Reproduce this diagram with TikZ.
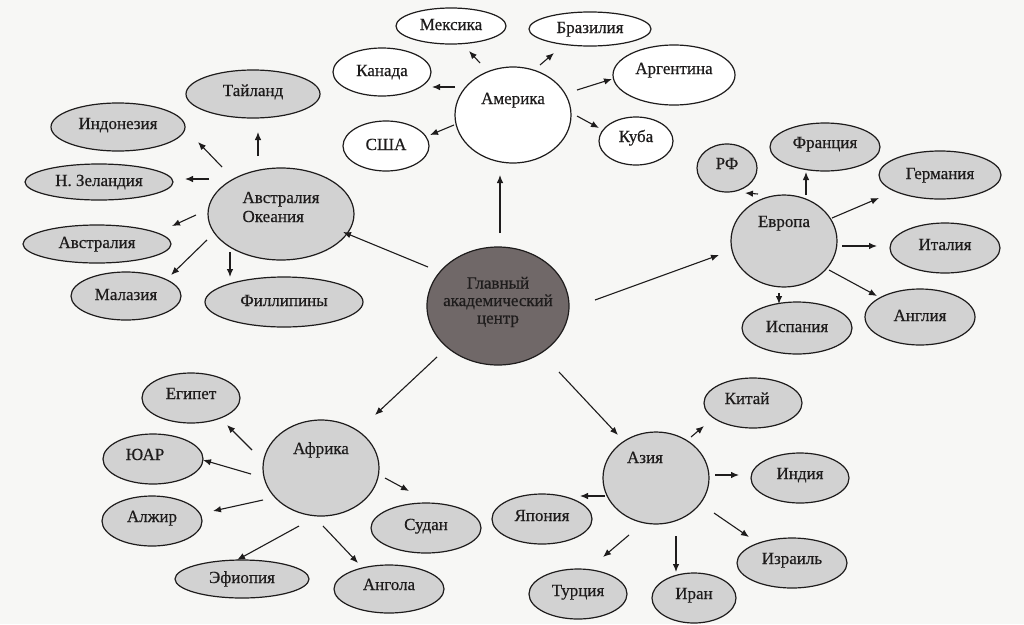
\documentclass[tikz,border=0pt]{standalone}
\usepackage{fontspec}
\setmainfont{Liberation Serif}[FakeBold=0.5]
\usetikzlibrary{shapes.geometric,arrows.meta,calc}
\definecolor{bg}{RGB}{247,247,245}
\definecolor{gfill}{RGB}{210,210,210}
\definecolor{mfill}{RGB}{112,104,104}
\definecolor{ink}{RGB}{30,28,28}
\tikzset{
  base/.style={ellipse, draw=ink, line width=1.2pt, inner sep=0pt},
  wn/.style={base, fill=white},
  gn/.style={base, fill=gfill},
  mn/.style={base, fill=mfill},
  sz/.style 2 args={minimum width=#1pt, minimum height=#2pt},
  tx/.style={font=\fontsize{17}{18}\selectfont, text=ink, inner sep=0pt, text height=12pt, text depth=4pt},
  arr/.style={-{Latex[length=8pt,width=6.5pt]}, line width=1.1pt, draw=ink},
}
\newcommand\link[4]{\draw[arr] ($(#1)+(#2)$) -- ($(#3)+(#4)$);}
\begin{document}
\begin{tikzpicture}[x=1pt,y=-1pt]
\fill[bg] (0,0) rectangle (1024,624);
\useasboundingbox (0,0) rectangle (1024,624);
% centre
\node[mn, sz={142}{118}, label={[font=\fontsize{17}{17.5}\selectfont, text=ink, align=center, inner sep=0pt, yshift=4pt]center:Главный\\академический\\центр}] (main) at (498,306) {};
% America
\node[wn, sz={116}{96}, label={[tx, yshift=15pt]center:Америка}] (am) at (513,115) {};
\node[wn, sz={110}{36}, label={[tx]center:Мексика}] (mex) at (451,26) {};
\node[wn, sz={122}{34}, label={[tx]center:Бразилия}] (bra) at (590,29) {};
\node[wn, sz={98}{48}, label={[tx]center:Канада}] (kan) at (382,72) {};
\node[wn, sz={122}{60}, label={[tx, yshift=5pt]center:Аргентина}] (arg) at (674,75) {};
\node[wn, sz={86}{50}, label={[tx]center:США}] (usa) at (386,146) {};
\node[wn, sz={74}{48}, label={[tx, yshift=3pt]center:Куба}] (kuba) at (636,141) {};
% Australia / Oceania
\node[gn, sz={146}{92}, label={[font=\fontsize{17}{19}\selectfont, text=ink, align=left, inner sep=0pt, yshift=7pt]center:Австралия\\Океания}] (auo) at (281,214) {};
\node[gn, sz={134}{48}, label={[tx, yshift=2pt]center:Тайланд}] (tai) at (253,94) {};
\node[gn, sz={134}{48}, label={[tx, yshift=2pt]center:Индонезия}] (ind) at (118,127) {};
\node[gn, sz={148}{36}, label={[tx]center:Н. Зеландия}] (nz) at (99,182) {};
\node[gn, sz={148}{38}, label={[tx]center:Австралия}] (aus) at (97,244) {};
\node[gn, sz={110}{48}, label={[tx]center:Малазия}] (mal) at (126,296) {};
\node[gn, sz={158}{50}, label={[tx]center:Филлипины}] (fil) at (284,302) {};
% Europe
\node[gn, sz={106}{92}, label={[tx, yshift=18pt]center:Европа}] (eur) at (784,241) {};
\node[gn, sz={60}{48}, label={[tx, yshift=3pt]center:РФ}] (rf) at (727,168) {};
\node[gn, sz={110}{48}, label={[tx, yshift=3pt]center:Франция}] (fra) at (825,147) {};
\node[gn, sz={122}{48}, label={[tx]center:Германия}] (ger) at (940,175) {};
\node[gn, sz={110}{50}, label={[tx, yshift=2pt]center:Италия}] (ita) at (945,248) {};
\node[gn, sz={110}{52}, label={[tx]center:Испания}] (isp) at (797,328) {};
\node[gn, sz={110}{56}, label={[tx]center:Англия}] (ang) at (920,317) {};
% Africa
\node[gn, sz={116}{96}, label={[tx, yshift=18pt]center:Африка}] (afr) at (321,468) {};
\node[gn, sz={98}{50}, label={[tx, yshift=3pt]center:Египет}] (egy) at (191,398) {};
\node[gn, sz={100}{50}, label={[tx, xshift=-8pt, yshift=3pt]center:ЮАР}] (yuar) at (153,459) {};
\node[gn, sz={100}{50}, label={[tx, yshift=3pt]center:Алжир}] (alg) at (152,521) {};
\node[gn, sz={110}{50}, label={[tx, yshift=2pt]center:Судан}] (sud) at (426,528) {};
\node[gn, sz={134}{38}, label={[tx]center:Эфиопия}] (efi) at (242,579) {};
\node[gn, sz={110}{48}, label={[tx, yshift=3pt]center:Ангола}] (ango) at (389,589) {};
% Asia
\node[gn, sz={106}{92}, label={[tx, xshift=-11pt, yshift=19pt]center:Азия}] (asia) at (656,478) {};
\node[gn, sz={98}{50}, label={[tx, xshift=-6pt, yshift=3pt]center:Китай}] (kit) at (753,403) {};
\node[gn, sz={98}{50}, label={[tx, yshift=3pt]center:Индия}] (indi) at (800,478) {};
\node[gn, sz={100}{50}, label={[tx, yshift=2pt]center:Япония}] (yap) at (542,519) {};
\node[gn, sz={110}{50}, label={[tx, yshift=3pt]center:Израиль}] (izr) at (792,563) {};
\node[gn, sz={98}{50}, label={[tx, yshift=2pt]center:Турция}] (tur) at (578,594) {};
\node[gn, sz={84}{50}, label={[tx, yshift=3pt]center:Иран}] (iran) at (694,598) {};
% arrows from the centre
\link{main}{2,-73}{am}{-13,60}
\link{main}{-70,-39}{auo}{62,18}
\link{main}{97,-6}{eur}{-65,14}
\link{main}{-61,51}{afr}{54,-53}
\link{main}{61,66}{asia}{-38,-43}
% America
\link{am}{-33,-52}{mex}{18,25}
\link{am}{-58,-28}{kan}{50,15}
\link{am}{-59,10}{usa}{44,-11}
\link{am}{27,-50}{bra}{-36,24}
\link{am}{64,-25}{arg}{-62,4}
\link{am}{64,1}{kuba}{-37,-13}
% Australia / Oceania
\link{auo}{-23,-58}{tai}{5,38}
\link{auo}{-59,-47}{ind}{80,15}
\link{auo}{-72,-35}{nz}{86,-3}
\link{auo}{-85,1}{aus}{75,-18}
\link{auo}{-74,26}{mal}{45,-21}
\link{auo}{-51,38}{fil}{-54,-25}
% Europe
\link{eur}{-26,-47}{rf}{18,25}
\link{eur}{22,-46}{fra}{-19,25}
\link{eur}{48,-23}{ger}{-61,23}
\link{eur}{58,5}{ita}{-68,-2}
\link{eur}{45,29}{ang}{-43,-21}
\link{eur}{-5,52}{isp}{-18,-24}
% Africa
\link{afr}{-69,-18}{egy}{36,27}
\link{afr}{-70,6}{yuar}{50,1}
\link{afr}{-58,32}{alg}{61,-10}
\link{afr}{64,10}{sud}{-17,-37}
\link{afr}{-22,58}{efi}{-5,-19}
\link{afr}{2,58}{ango}{-31,-26}
% Asia
\link{asia}{35,-41}{kit}{-49,23}
\link{asia}{59,-3}{indi}{-61,-3}
\link{asia}{58,35}{izr}{-43,-26}
\link{asia}{-51,18}{yap}{38,-23}
\link{asia}{-27,57}{tur}{25,-37}
\link{asia}{20,58}{iran}{-18,-26}
\end{tikzpicture}
\end{document}
